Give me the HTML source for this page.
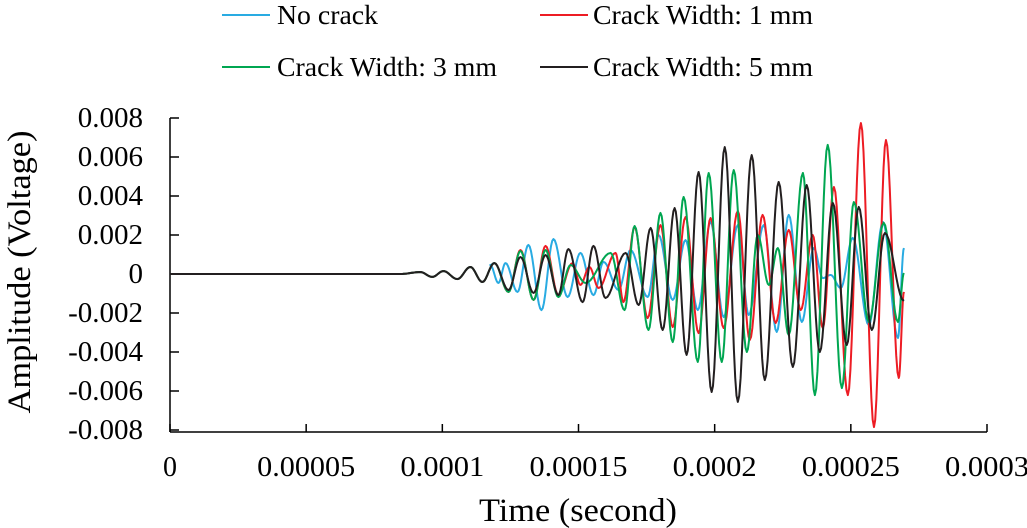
<!DOCTYPE html>
<html><head><meta charset="utf-8"><style>
body{margin:0;background:#fff}
svg{display:block;font-family:"Liberation Serif",serif}
</style></head><body>
<svg id="chart" width="1027" height="528" viewBox="0 0 1027 528" xmlns="http://www.w3.org/2000/svg">
<g id="legend">
<g><line x1="222" y1="15" x2="270" y2="15" stroke="#29abe2" stroke-width="2"/><text x="277" y="24" font-size="27" textLength="101" lengthAdjust="spacingAndGlyphs">No crack</text></g>
<g><line x1="540" y1="15" x2="588" y2="15" stroke="#ed1c24" stroke-width="2"/><text x="593" y="24" font-size="27" textLength="220" lengthAdjust="spacingAndGlyphs">Crack Width: 1 mm</text></g>
<g><line x1="222" y1="67" x2="270" y2="67" stroke="#00a651" stroke-width="2"/><text x="277" y="76" font-size="27" textLength="220" lengthAdjust="spacingAndGlyphs">Crack Width: 3 mm</text></g>
<g><line x1="540" y1="67" x2="588" y2="67" stroke="#231f20" stroke-width="2"/><text x="593" y="76" font-size="27" textLength="220" lengthAdjust="spacingAndGlyphs">Crack Width: 5 mm</text></g>
</g>
<g id="axes"></g>
<g id="series"></g>
<text x="578" y="521" font-size="33" text-anchor="middle" textLength="198" lengthAdjust="spacingAndGlyphs">Time (second)</text>
<text transform="translate(30,272) rotate(-90)" font-size="33" text-anchor="middle" textLength="283" lengthAdjust="spacingAndGlyphs">Amplitude (Voltage)</text>
</svg>
<script>
const xTicks=[0,0.00005,0.0001,0.00015,0.0002,0.00025,0.0003];
const xTickLabels=["0","0.00005","0.0001","0.00015","0.0002","0.00025","0.0003"];
const yTicks=[0.008,0.006,0.004,0.002,0,-0.002,-0.004,-0.006,-0.008];
const yTickLabels=["0.008","0.006","0.004","0.002","0","-0.002","-0.004","-0.006","-0.008"];
// extrema: time (µs), amplitude (mV)
const early=[[0,0],[84.6,0],[91.9,0.10],[96.3,-0.15],[100.4,0.15],[105.5,-0.26],[110.3,0.36],[114.7,-0.41],[119.1,0.56]];
const blackPeaks=[[124.3,-0.82],[128.7,0.87],[133.5,-0.97],[137.9,0.97],[142.6,-1.08],[146.3,1.28],[151.5,-1.44],[155.5,1.44],[159.9,-1.23],[167.3,1.08],[172.1,-1.59],[176.5,2.36],[180.9,-2.87],[185.3,3.38],[189.7,-4.15],[194.1,5.23],[198.9,-6.05],[203.7,6.51],[208.5,-6.56],[213.6,6.10],[218.4,-5.44],[223.5,4.72],[228.7,-4.77],[233.8,4.56],[238.6,-4.0],[243.4,3.64],[248.5,-3.64],[252.9,3.44],[257.7,-2.87],[262.5,2.10],[269.5,-1.38]];
const redPeaks=[[124.3,-0.92],[128.7,1.23],[133.5,-1.33],[137.9,1.44],[142.6,-1.08],[147.8,0.56],[150.7,-0.56],[154.0,0.36],[157.4,-0.72],[163.6,1.08],[166.5,-1.44],[170.6,2.41],[175.4,-2.26],[180.1,2.51],[184.6,-2.72],[189.3,2.92],[194.1,-3.03],[198.5,2.87],[203.3,-2.77],[208.5,3.23],[212.9,-3.38],[217.6,3.03],[222.4,-2.51],[227.2,2.26],[231.6,-1.85],[236.0,2.0],[239.7,-2.77],[243.8,4.46],[248.9,-6.21],[253.7,7.74],[258.5,-7.85],[262.9,6.87],[267.6,-5.33],[269.5,-0.92]];
const greenPeaks=[[124.3,-0.92],[128.7,1.18],[133.5,-1.33],[137.9,1.23],[142.6,-1.18],[147.1,0.46],[152.6,-0.46],[161.8,1.08],[166.9,-1.85],[170.6,2.46],[175.7,-2.87],[180.1,3.13],[184.6,-3.49],[188.6,3.95],[193.8,-4.51],[197.8,5.18],[202.6,-4.51],[207.0,5.33],[211.8,-4.0],[215.8,2.0],[219.9,-0.56],[223.2,1.33],[227.2,-3.13],[232.4,5.18],[236.8,-6.21],[241.5,6.62],[246.7,-5.85],[251.1,3.69],[256.6,-2.46],[262.1,2.62],[267.3,-2.46],[269.5,0.05]];
const bluePeaks=[[117.6,0.46],[120.6,-0.46],[123.2,0.56],[127.6,-0.92],[131.6,1.49],[136.4,-1.85],[140.8,1.79],[146.0,-1.18],[150.7,1.08],[155.5,-1.08],[159.2,0.62],[164.7,-0.82],[169.1,1.23],[175.4,-1.18],[179.4,2.0],[184.6,-1.33],[189.3,1.74],[193.8,-1.85],[198.5,2.67],[203.3,-2.21],[208.5,2.51],[212.5,-2.10],[218.0,2.51],[222.8,-2.97],[227.2,3.03],[232.0,-2.46],[236.4,1.33],[239.7,-0.21],[242.6,-0.05],[246.3,-0.72],[250.7,1.85],[256.6,-2.62],[261.8,2.67],[267.3,-3.28],[269.5,1.33]];
const NS="http://www.w3.org/2000/svg";
const X0=170,X1=987,Y0=118,Y1=430;
function xs(t){return X0+(t-0)/0.0003*(X1-X0);}
function ys(v){return Y0+(0.008-v)/0.016*(Y1-Y0);}
const axes=document.getElementById('axes');
function mk(tag,attrs,parent){const e=document.createElementNS(NS,tag);for(const k in attrs)e.setAttribute(k,attrs[k]);parent.appendChild(e);return e;}
const xl=mk('line',{x1:X0,y1:Y1+2,x2:X1,y2:Y1+2,stroke:'#000','stroke-width':1.5},axes);


const yl=mk('line',{x1:X0,y1:Y0,x2:X0,y2:Y1+2,stroke:'#000','stroke-width':1.5},axes);


xTicks.forEach((t,i)=>{
  const tk=mk('line',{x1:xs(t),y1:Y1+2,x2:xs(t),y2:Y1-6,stroke:'#000','stroke-width':1.5},axes);
  
  
  const lab=xTickLabels[i];
  const attrs={x:xs(t),y:476,'font-size':28,'text-anchor':'middle'};
  if(lab.length>1){attrs.textLength=(lab.length*14.0).toFixed(1);attrs.lengthAdjust='spacingAndGlyphs';}
  const tx=mk('text',attrs,axes);
  tx.textContent=lab;
  
  
});
yTicks.forEach((v,i)=>{
  const tk=mk('line',{x1:X0,y1:ys(v),x2:X0+9,y2:ys(v),stroke:'#000','stroke-width':1.5},axes);
  
  
  const tx=mk('text',{x:143,y:ys(v)+9,'font-size':29,'text-anchor':'end'},axes);
  tx.textContent=yTickLabels[i];
  
  
});
const g=document.getElementById('series');
function path(peaks,color,name){
  const pts=early.concat(peaks);
  let d='';
  for(let i=0;i<pts.length;i++){
    const t=pts[i][0]*1e-6,v=pts[i][1]*1e-3;
    if(i===0){d+='M'+xs(t).toFixed(2)+' '+ys(v).toFixed(2);continue;}
    const ta=pts[i-1][0]*1e-6,va=pts[i-1][1]*1e-3;
    const n=10;
    for(let k=1;k<=n;k++){const s=k/n;const tt=ta+(t-ta)*s;const vv=va+(v-va)*(1-Math.cos(Math.PI*s))/2;d+='L'+xs(tt).toFixed(2)+' '+ys(vv).toFixed(2);}
  }
  const p=mk('path',{d:d,fill:'none',stroke:color,'stroke-width':2,'stroke-linejoin':'round'},g);
  
  
}
path(bluePeaks,'#29abe2','series-no-crack');
path(redPeaks,'#ed1c24','series-crack-1mm');
path(greenPeaks,'#00a651','series-crack-3mm');
path(blackPeaks,'#231f20','series-crack-5mm');
</script>
</body></html>
